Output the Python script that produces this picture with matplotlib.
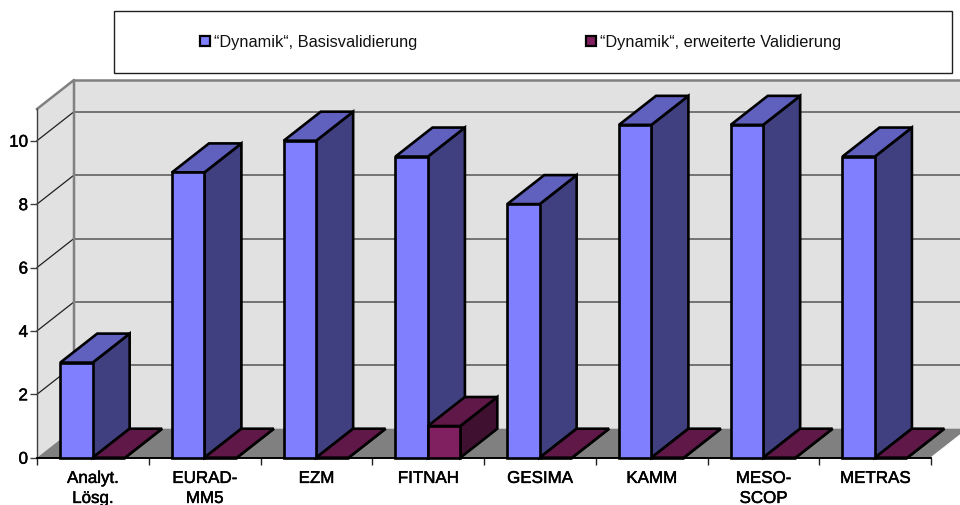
import matplotlib
matplotlib.use("Agg")
import matplotlib.pyplot as plt
import matplotlib.patheffects as pe
from matplotlib.patches import Polygon, Rectangle

plt.rcParams['font.family'] = ['Liberation Sans', 'DejaVu Sans']

categories = ["Analyt.\nLösg.", "EURAD-\nMM5", "EZM", "FITNAH", "GESIMA", "KAMM", "MESO-\nSCOP", "METRAS"]
basis_values = [3, 9, 10, 9.5, 8, 10.5, 10.5, 9.5]
extended_values = [0, 0, 0, 1, 0, 0, 0, 0]
series_names = ["\u201cDynamik\u201c, Basisvalidierung", "\u201cDynamik\u201c, erweiterte Validierung"]
y_ticks = [0, 2, 4, 6, 8, 10]

W, H = 960, 506
fig = plt.figure(figsize=(W / 100, H / 100), dpi=100, facecolor="white")

# Plot plane in pixels: front floor edge and value scale
left, right, floor_y, top_y = 37, 931, 458.7, 110
ax = fig.add_axes([left / W, 1 - floor_y / H, (right - left) / W, (floor_y - top_y) / H])
ax.set_xlim(0, len(categories))
ax.set_ylim(0, 11)
ax.patch.set_visible(False)
for name in ("top", "right"):
    ax.spines[name].set_visible(False)

# Oblique depth of the box, expressed in data units
depth_x = 37 / ((right - left) / len(categories))
depth_y = 29 / ((floor_y - top_y) / 11)


def shifted(x, y):
    return (x + depth_x, y + depth_y)


def face(points, color, z, edge=None, lw=0):
    ax.add_patch(Polygon(points, closed=True, facecolor=color, edgecolor=edge or "none",
                         linewidth=lw, zorder=z, clip_on=False, joinstyle="miter"))


WALL = "#E1E1E1"
FLOOR = "#808080"
WALL_EDGE = "#808080"
n = len(categories)

# Back wall, side wall, floor
face([shifted(0, 0), shifted(n, 0), shifted(n, 11), shifted(0, 11)], WALL, 1)
face([(0, 0), shifted(0, 0), shifted(0, 11), (0, 11)], WALL, 1)
face([(0, 0), (n, 0), shifted(n, 0), shifted(0, 0)], FLOOR, 1)

# Gridlines across the back wall and side wall
for v in y_ticks[1:]:
    ax.plot([depth_x, n + depth_x], [v + depth_y] * 2, color="#606060", lw=1.2, zorder=2, clip_on=False)
    ax.plot([0, depth_x], [v, v + depth_y], color="#202020", lw=0.9, zorder=2, clip_on=False)

# Wall outlines
ax.plot([0, depth_x, depth_x], [11, 11 + depth_y, depth_y], color=WALL_EDGE, lw=1.8, zorder=3, clip_on=False)
ax.plot([depth_x, n + depth_x], [11 + depth_y] * 2, color=WALL_EDGE, lw=1.8, zorder=3, clip_on=False)
ax.plot([n, n + depth_x], [0, depth_y], color="white", lw=0.8, zorder=3, clip_on=False)


def bar3d(x0, x1, value, front, top, side, z):
    kw = dict(edge="black", lw=1.9)
    face([(x1, 0), shifted(x1, 0), shifted(x1, value), (x1, value)], side, z, **kw)
    face([(x0, value), (x1, value), shifted(x1, value), shifted(x0, value)], top, z, **kw)
    face([(x0, 0), (x1, 0), (x1, value), (x0, value)], front, z, **kw)


# Each category holds two adjacent bars centred in its slot
bar_w = 0.29
offset = 0.208
for i, (a, b) in enumerate(zip(basis_values, extended_values)):
    bar3d(i + offset, i + offset + bar_w, a, "#8080FF", "#6060BF", "#404080", 5 + i)
    bar3d(i + offset + bar_w, i + offset + 2 * bar_w, b, "#802060", "#601848", "#401030", 5.5 + i)

# Axes, ticks, labels
heavier = [pe.withStroke(linewidth=0.35, foreground="black")]
ax.set_xticks(range(n + 1))
ax.set_xticklabels([])
ax.set_xticks([i + 0.5 for i in range(n)], minor=True)
ax.set_xticklabels(categories, minor=True, fontsize=12.2, linespacing=1.42, path_effects=heavier)
ax.tick_params(axis="x", which="major", length=5, width=1, color="#202020", direction="out")
ax.tick_params(axis="x", which="minor", length=0, pad=9.5)
ax.set_yticks(y_ticks)
ax.tick_params(axis="y", length=5, width=1, color="#404040", labelsize=12.2, pad=1.5)
for label in ax.get_yticklabels():
    label.set_path_effects(heavier)
ax.spines["left"].set_color("#404040")
ax.spines["left"].set_linewidth(1)
ax.spines["left"].set_zorder(4)
ax.spines["bottom"].set_color("black")
ax.spines["bottom"].set_linewidth(1.4)
ax.spines["bottom"].set_zorder(4)

# Legend panel above the plot
fig.add_artist(Rectangle((113.5 / W, 1 - 73.5 / H), 838.5 / W, 62 / H, transform=fig.transFigure,
                         facecolor="white", edgecolor="#202020", linewidth=1))
for name, color, px in zip(series_names, ["#8080FF", "#802060"], [200, 586]):
    fig.add_artist(Rectangle((px / W, 1 - 47 / H), 10 / W, 10 / H, transform=fig.transFigure,
                             facecolor=color, edgecolor="black", linewidth=1.6))
    fig.text((px + 13.5) / W, 1 - 42 / H, name, fontsize=11.75, va="center", ha="left", color="#111111")

fig.savefig("out.png", dpi=100)
